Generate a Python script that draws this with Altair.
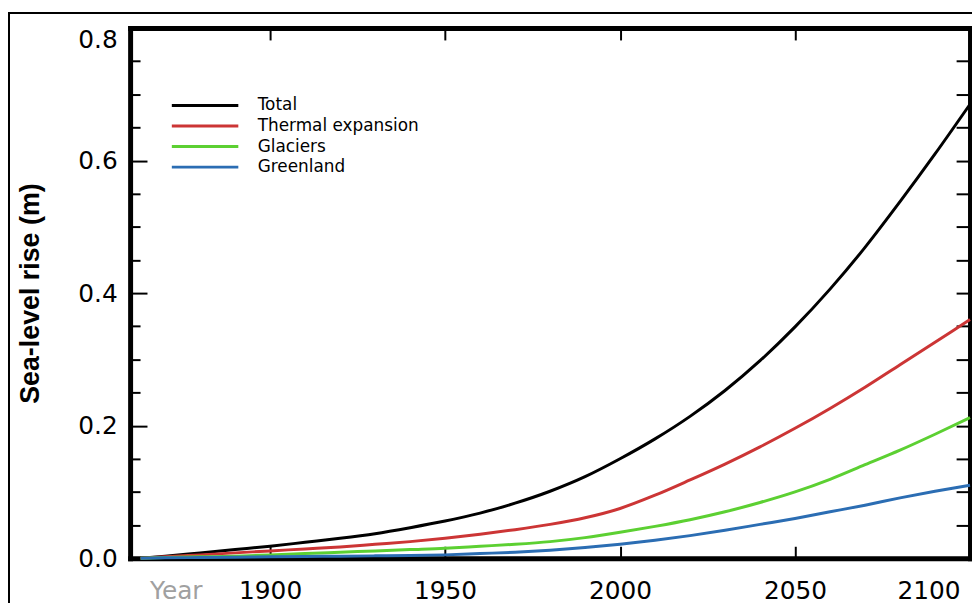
import altair as alt
import pandas as pd

years = [1863, 1870, 1880, 1890, 1900, 1910, 1920, 1930, 1940, 1950, 1960, 1970,
         1980, 1990, 2000, 2010, 2020, 2030, 2040, 2050, 2060, 2070, 2080, 2090, 2100]

total = [0.000, 0.003, 0.008, 0.013, 0.018, 0.024, 0.030, 0.037, 0.046, 0.056, 0.068, 0.083,
         0.101, 0.123, 0.150, 0.180, 0.214, 0.253, 0.298, 0.349, 0.406, 0.469, 0.538, 0.610, 0.685]
thermal = [0.000, 0.002, 0.005, 0.008, 0.011, 0.014, 0.017, 0.021, 0.025, 0.030, 0.036, 0.043,
           0.051, 0.061, 0.075, 0.095, 0.118, 0.142, 0.168, 0.196, 0.226, 0.258, 0.292, 0.326, 0.360]
glaciers = [0.000, 0.001, 0.002, 0.003, 0.005, 0.007, 0.009, 0.011, 0.013, 0.015, 0.018, 0.021,
            0.025, 0.031, 0.039, 0.048, 0.058, 0.070, 0.084, 0.100, 0.119, 0.141, 0.163, 0.187, 0.212]
greenland = [0.000, 0.0005, 0.001, 0.0015, 0.002, 0.0025, 0.003, 0.0035, 0.004, 0.005, 0.007, 0.009,
             0.012, 0.016, 0.021, 0.027, 0.034, 0.042, 0.051, 0.060, 0.070, 0.080, 0.091, 0.101, 0.110]

series_names = ["Total", "Thermal expansion", "Glaciers", "Greenland"]
series_colors = ["#000000", "#cc3535", "#5cd032", "#2b6db3"]

x_label_values = [1900, 1950, 2000, 2050, 2100]
x_tick_values = [1900, 1950, 2000, 2050]
y_label_values = [0.0, 0.2, 0.4, 0.6, 0.8]
y_tick_values = [0.05, 0.10, 0.15, 0.20, 0.25, 0.30, 0.35, 0.40, 0.45, 0.50, 0.55, 0.60, 0.65, 0.70, 0.75]

rows = []
for name, vals in zip(series_names, [total, thermal, glaciers, greenland]):
    for yr, v in zip(years, vals):
        rows.append({"year": yr, "value": v, "series": name})
df = pd.DataFrame(rows)

W, H = 846, 534
xscale = alt.Scale(domain=[1860, 2100], nice=False, zero=False)
yscale = alt.Scale(domain=[0, 0.8], nice=False)

lines = alt.Chart(df).mark_line(strokeWidth=3, interpolate="monotone").encode(
    x=alt.X("year:Q", scale=xscale, axis=alt.Axis(
        orient="bottom", values=x_label_values, format="d", ticks=False, grid=False,
        domain=True, domainWidth=5, domainColor="black", domainCap="square",
        labelFont="DejaVu Sans", labelFontSize=25, labelColor="black", labelPadding=21,
        labelFlush=True, labelFlushOffset=-10,
        title="Year", titleColor="#a0a0a0", titleFont="DejaVu Sans", titleFontSize=25,
        titleFontWeight="normal", titleX=46, titleY=21, titleBaseline="top", titleAlign="center")),
    y=alt.Y("value:Q", scale=yscale, axis=alt.Axis(
        orient="left", values=y_label_values, format=".1f", ticks=False, grid=False,
        domain=True, domainWidth=5, domainColor="black", domainCap="square",
        labelFont="DejaVu Sans", labelFontSize=25, labelColor="black", labelPadding=13,
        labelBaseline={"condition": {"test": "datum.value > 0.79", "value": "top"}, "value": "middle"},
        title="Sea-level rise (m)", titleFont="Liberation Sans", titleFontSize=27, titleFontWeight="bold",
        titleColor="black", titleX=-100, titleY=H / 2, titleAngle=270, titleBaseline="middle",
        titleAlign="center")),
    color=alt.Color("series:N", scale=alt.Scale(domain=series_names, range=series_colors),
                    legend=alt.Legend(orient="none", legendX=65.5, legendY=68, title=None,
                                      symbolType="M-3.94,0H3.94", symbolSize=289, symbolStrokeWidth=3,
                                      labelFont="DejaVu Sans", labelFontSize=17, labelColor="black",
                                      labelOffset=43, labelLimit=400, rowPadding=2.7, padding=0)),
    detail="series:N",
)

ticks_a = alt.Chart(df).mark_line(opacity=0).encode(
    x=alt.X("year:Q", scale=xscale, axis=alt.Axis(
        orient="top", offset=-H, values=x_tick_values, labels=False, domain=False, grid=False,
        tickSize=12, tickWidth=2, tickColor="black", title=None)),
    y=alt.Y("value:Q", scale=yscale, axis=alt.Axis(
        orient="right", offset=-W, values=y_tick_values, labels=False, domain=False, grid=False,
        tickSize={"condition": {"test": "abs(datum.value*5 - round(datum.value*5)) < 0.001", "value": 17}, "value": 10},
        tickWidth=2, tickColor="black", title=None)),
    detail="series:N",
)

ticks_b = alt.Chart(df).mark_line(opacity=0).encode(
    x=alt.X("year:Q", scale=xscale, axis=alt.Axis(
        orient="bottom", offset=-H, values=x_tick_values, labels=False, grid=False,
        domain=True, domainWidth=5, domainColor="black", domainCap="square",
        tickSize=12, tickWidth=2, tickColor="black", title=None)),
    y=alt.Y("value:Q", scale=yscale, axis=alt.Axis(
        orient="left", offset=-W, values=y_tick_values, labels=False, grid=False,
        domain=True, domainWidth=5, domainColor="black", domainCap="square",
        tickSize=14, tickWidth=2, tickColor="black", title=None)),
    detail="series:N",
)

border_top = alt.Chart(df).mark_rule(color="black", strokeWidth=1.5).encode(
    x=alt.value(-123), x2=alt.value(W + 4), y=alt.value(-15))
border_left = alt.Chart(df).mark_rule(color="black", strokeWidth=1.5).encode(
    x=alt.value(-122), y=alt.value(-15), y2=alt.value(H + 50))

chart = alt.layer(ticks_a, ticks_b, lines, border_top, border_left).resolve_axis(
    x="independent", y="independent"
).properties(
    width=W, height=H,
    autosize=alt.AutoSizeParams(type="none"),
    padding={"left": 123, "top": 18, "right": 2, "bottom": 47},
    background="white",
).configure_view(stroke="transparent")

chart.save("out.html", embed_options={"renderer": "svg", "actions": False})
